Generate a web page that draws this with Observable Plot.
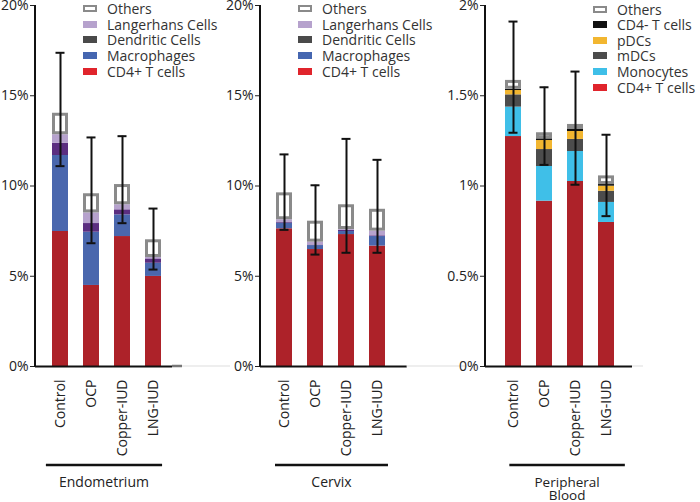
<!DOCTYPE html>
<html>
<head>
<meta charset="utf-8">
<script src="https://cdn.jsdelivr.net/npm/d3@7"></script>
<script src="https://cdn.jsdelivr.net/npm/@observablehq/plot@0.6"></script>
<style>
  html, body { margin: 0; padding: 0; background: #fff; }
  #chart { position: relative; width: 700px; height: 502px; font-family: "Open Sans", sans-serif; color: #333; }
  #chart svg { position: absolute; top: 0; overflow: visible; }
  .legend { position: absolute; font-size: 14px; color: #333; }
  .legend .row { display: flex; align-items: center; white-space: nowrap; }
  .legend .row span { line-height: 15px; }
  .legend .sw { width: 14px; height: 7px; margin-right: 10px; box-sizing: border-box; flex: none; }
</style>
</head>
<body>
<div id="chart"></div>
<script>
// ---------- categories ----------
const groups = ["Control", "OCP", "Copper-IUD", "LNG-IUD"];
const tissueCells = ["CD4+ T cells", "Macrophages", "Dendritic Cells", "Langerhans Cells", "Others"];
const bloodCells = ["CD4+ T cells", "Monocytes", "mDCs", "pDCs", "CD4- T cells", "Others"];

// ---------- colours ----------
const tissueBarColors = ["#ad2229", "#4a67ad", "#5b2e80", "#b6a2cd", "#ffffff"];
const tissueLegendColors = ["#e0242c", "#4566b0", "#4a4a4a", "#b6a2cd", "#ffffff"];
const bloodBarColors = ["#ad2229", "#3fbfe8", "#4c4c4c", "#f2b630", "#111111", "#ffffff"];
const bloodLegendColors = ["#e0242c", "#3fbfe8", "#4c4c4c", "#f2b630", "#111111", "#ffffff"];

// ---------- Endometrium (% segment heights, by group) ----------
const endoCD4 = [7.48, 4.49, 7.20, 4.99];
const endoMac = [4.21, 2.95, 1.20, 0.73];
const endoDC = [0.68, 0.48, 0.28, 0.24];
const endoLC = [0.47, 0.59, 0.28, 0.08];
const endoOthers = [1.19, 1.06, 1.12, 0.98];
const endoErrLow = [11.10, 6.83, 7.94, 5.37];
const endoErrHigh = [17.38, 12.69, 12.76, 8.75];

// ---------- Cervix ----------
const cervCD4 = [7.63, 6.48, 7.31, 6.67];
const cervMac = [0.31, 0.22, 0.17, 0.53];
const cervDC = [0.04, 0.03, 0.07, 0.04];
const cervLC = [0.15, 0.16, 0.04, 0.26];
const cervOthers = [1.49, 1.16, 1.37, 1.21];
const cervErrLow = [7.57, 6.20, 6.30, 6.30];
const cervErrHigh = [11.75, 10.04, 12.61, 11.45];

// ---------- Peripheral Blood ----------
const bloodCD4 = [1.274, 0.916, 1.025, 0.798];
const bloodMono = [0.163, 0.192, 0.166, 0.111];
const bloodMDC = [0.068, 0.094, 0.067, 0.062];
const bloodPDC = [0.024, 0.050, 0.044, 0.028];
const bloodCD4neg = [0.007, 0.009, 0.011, 0.009];
const bloodOthers = [0.049, 0.034, 0.028, 0.048];
const bloodErrLow = [1.295, 1.117, 1.007, 0.833];
const bloodErrHigh = [1.911, 1.547, 1.634, 1.284];

// ---------- tick labels ----------
const tissueTicks = [0, 5, 10, 15, 20];
const bloodTicks = [0, 0.5, 1, 1.5, 2];

const chart = document.getElementById("chart");

function makePanel(o) {
  const segs = [], others = [];
  groups.forEach((g, gi) => {
    let acc = 0;
    o.cells.forEach((c, ci) => {
      const v = o.series[ci][gi];
      const d = {group: g, cell: c, y1: acc, y2: acc + v};
      acc += v;
      (c === "Others" ? others : segs).push(d);
    });
  });
  const err = groups.map((g, i) => ({group: g, lo: o.errLow[i], hi: o.errHigh[i]}));
  const H = 502, mTop = 5, mBottom = 136;
  const mRight = o.width - o.rangeEnd;

  const plot = Plot.plot({
    width: o.width, height: H,
    marginLeft: o.axisX, marginRight: mRight, marginTop: mTop, marginBottom: mBottom,
    style: {fontFamily: "'Open Sans', sans-serif", fontSize: "14px", color: "#222", background: "transparent", overflow: "visible"},
    x: {domain: groups, paddingInner: o.pIn, paddingOuter: o.pOut, align: o.align,
        tickRotate: -90, tickSize: 0, tickPadding: 13, label: null},
    y: {domain: [0, o.yMax], ticks: o.ticks, tickSize: 5, tickPadding: 2,
        tickFormat: d => d + "%", label: null},
    color: {domain: o.cells, range: o.barColors},
    marks: [
      Plot.barY(segs, {x: "group", y1: "y1", y2: "y2", fill: "cell"}),
      Plot.barY(others, {x: "group", y1: "y1", y2: "y2", fill: "white", stroke: "#8a8a8a", strokeWidth: 3, inset: 1.5}),
      Plot.ruleX(err, {x: "group", y1: "lo", y2: "hi", stroke: "#111", strokeWidth: 2}),
      Plot.tickY(err, {x: "group", y: "lo", stroke: "#111", strokeWidth: 2, insetLeft: 3.5, insetRight: 3.5}),
      Plot.tickY(err, {x: "group", y: "hi", stroke: "#111", strokeWidth: 2, insetLeft: 3.5, insetRight: 3.5}),
      Plot.ruleY([0], {stroke: "#111", strokeWidth: 2})
    ]
  });
  plot.style.left = o.left + "px";
  chart.appendChild(plot);

  const svg = d3.select(plot);
  const yr = [H - mBottom, mTop];
  // y axis line
  svg.append("line").attr("x1", o.axisX).attr("x2", o.axisX).attr("y1", yr[0] + 1).attr("y2", yr[1])
    .attr("stroke", "#111").attr("stroke-width", 2);
  // faint continuation of baseline
  svg.append("line").attr("x1", o.rangeEnd).attr("x2", o.faintEnd).attr("y1", yr[0]).attr("y2", yr[0])
    .attr("stroke", "#ddd").attr("stroke-width", 1);
  if (o.greyStub) {
    svg.append("line").attr("x1", o.rangeEnd).attr("x2", o.rangeEnd + 10).attr("y1", yr[0]).attr("y2", yr[0])
      .attr("stroke", "#777").attr("stroke-width", 2.5);
  }
  // group line + label using same band scale
  const xs = d3.scaleBand().domain(groups).range([o.axisX, o.rangeEnd])
    .paddingInner(o.pIn).paddingOuter(o.pOut).align(o.align);
  const x1 = xs(groups[0]) + o.lineShift[0];
  const x2 = xs(groups[groups.length - 1]) + xs.bandwidth() + o.lineShift[1];
  svg.append("line").attr("x1", x1).attr("x2", x2).attr("y1", 465).attr("y2", 465)
    .attr("stroke", "#111").attr("stroke-width", 2.5);
  const fs = o.groupLabel.length > 1 ? 13.5 : 14;
  o.groupLabel.forEach((t, i) => {
    svg.append("text").attr("x", (x1 + x2) / 2).attr("y", 486.5 + i * 13.5)
      .attr("text-anchor", "middle").attr("fill", "#222")
      .style("font-size", fs + "px").text(t);
  });

  // legend (HTML)
  const lg = document.createElement("div");
  lg.className = "legend";
  lg.style.left = o.legendX + "px";
  lg.style.top = o.legendY + "px";
  const n = o.cells.length;
  for (let i = n - 1; i >= 0; i--) {
    const row = document.createElement("div");
    row.className = "row";
    row.style.height = o.rowH + "px";
    const sw = document.createElement("div");
    sw.className = "sw";
    if (o.cells[i] === "Others") {
      sw.style.border = "2px solid #8a8a8a";
      sw.style.background = "#fff";
    } else {
      sw.style.background = o.legendColors[i];
    }
    const tx = document.createElement("span");
    tx.textContent = o.cells[i];
    row.appendChild(sw);
    row.appendChild(tx);
    lg.appendChild(row);
  }
  chart.appendChild(lg);
}

makePanel({
  left: 0, width: 235, axisX: 35, rangeEnd: 172, faintEnd: 230, greyStub: true,
  pIn: 0.475, pOut: 0.39, align: 0.6,
  yMax: 20, ticks: tissueTicks,
  cells: tissueCells, barColors: tissueBarColors, legendColors: tissueLegendColors,
  series: [endoCD4, endoMac, endoDC, endoLC, endoOthers],
  errLow: endoErrLow, errHigh: endoErrHigh,
  groupLabel: ["Endometrium"], lineShift: [-4, 0],
  legendX: 83, legendY: 0.5, rowH: 15.75
});
makePanel({
  left: 235, width: 225, axisX: 25, rangeEnd: 171.7, faintEnd: 230, greyStub: false,
  pIn: 0.495, pOut: 0.564, align: 0.42,
  yMax: 20, ticks: tissueTicks,
  cells: tissueCells, barColors: tissueBarColors, legendColors: tissueLegendColors,
  series: [cervCD4, cervMac, cervDC, cervLC, cervOthers],
  errLow: cervErrLow, errHigh: cervErrHigh,
  groupLabel: ["Cervix"], lineShift: [0, 2],
  legendX: 298, legendY: 0.5, rowH: 15.75
});
makePanel({
  left: 460, width: 240, axisX: 25, rangeEnd: 172, faintEnd: 183, greyStub: false,
  pIn: 0.5, pOut: 0.578, align: 0.53,
  yMax: 2, ticks: bloodTicks,
  cells: bloodCells, barColors: bloodBarColors, legendColors: bloodLegendColors,
  series: [bloodCD4, bloodMono, bloodMDC, bloodPDC, bloodCD4neg, bloodOthers],
  errLow: bloodErrLow, errHigh: bloodErrHigh,
  groupLabel: ["Peripheral", "Blood"], lineShift: [5, 10],
  legendX: 593, legendY: 1.5, rowH: 15.55
});
</script>
</body>
</html>
